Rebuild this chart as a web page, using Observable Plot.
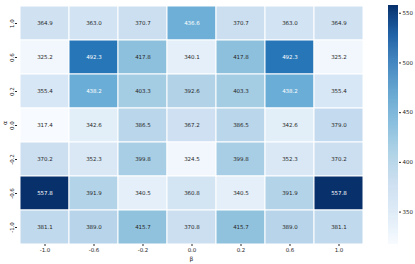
<!DOCTYPE html>
<html>
<head>
<meta charset="utf-8">
<script src="https://cdn.jsdelivr.net/npm/d3@7"></script>
<script src="https://cdn.jsdelivr.net/npm/@observablehq/plot@0.6"></script>
<style>
  html, body { margin: 0; padding: 0; background: #fff; }
  #wrap { position: relative; width: 415px; height: 264px; font-family: "DejaVu Sans", sans-serif; }
  #wrap svg { position: absolute; top: 0; }
</style>
</head>
<body>
<div id="wrap"></div>
<script>
// β across, α down (top to bottom)
const betas = ["-1.0", "-0.6", "-0.2", "0.0", "0.2", "0.6", "1.0"];
const alphas = ["1.0", "0.6", "0.2", "0.0", "-0.2", "-0.6", "-1.0"];
const row_a1_0  = [364.9, 363.0, 370.7, 436.6, 370.7, 363.0, 364.9];
const row_a0_6  = [325.2, 492.3, 417.8, 340.1, 417.8, 492.3, 325.2];
const row_a0_2  = [355.4, 438.2, 403.3, 392.6, 403.3, 438.2, 355.4];
const row_a0_0  = [317.4, 342.6, 386.5, 367.2, 386.5, 342.6, 379.0];
const row_am0_2 = [370.2, 352.3, 399.8, 324.5, 399.8, 352.3, 370.2];
const row_am0_6 = [557.8, 391.9, 340.5, 360.8, 340.5, 391.9, 557.8];
const row_am1_0 = [381.1, 389.0, 415.7, 370.8, 415.7, 389.0, 381.1];
const colorbarTicks = [350, 400, 450, 500, 550];

const rows = [row_a1_0, row_a0_6, row_a0_2, row_a0_0, row_am0_2, row_am0_6, row_am1_0];
const data = [];
rows.forEach((r, i) => r.forEach((v, j) => data.push({alpha: alphas[i], beta: betas[j], value: v})));

const vmin = d3.min(data, d => d.value);
const vmax = d3.max(data, d => d.value);
const blues = ["#f7fbff", "#deebf7", "#c6dbef", "#9ecae1", "#6baed6", "#4292c6", "#2171b5", "#08519c", "#08306b"];
const colorDomain = blues.map((_, i) => vmin + (vmax - vmin) * i / (blues.length - 1));
const colorOpts = {type: "linear", domain: colorDomain, range: blues, interpolate: "rgb"};
const colorFn = d3.scaleLinear().domain(colorDomain).range(blues).interpolate(d3.interpolateRgb);

function lum(c) {
  const rgb = d3.rgb(c);
  const f = x => { x /= 255; return x <= 0.03928 ? x / 12.92 : Math.pow((x + 0.055) / 1.055, 2.4); };
  return 0.2126 * f(rgb.r) + 0.7152 * f(rgb.g) + 0.0722 * f(rgb.b);
}
const textColor = d => lum(colorFn(d.value)) > 0.408 ? "#262626" : "#ffffff";

const fontSize = 5.5;
const main = Plot.plot({
  width: 370,
  height: 264,
  marginLeft: 17,
  marginRight: 5,
  marginTop: 5,
  marginBottom: 20,
  style: {fontFamily: "DejaVu Sans, sans-serif", fontSize: fontSize + "px", color: "#262626", background: "transparent"},
  x: {type: "band", domain: betas, padding: 0, label: null},
  y: {type: "band", domain: alphas, padding: 0, label: null},
  color: colorOpts,
  marks: [
    Plot.cell(data, {x: "beta", y: "alpha", fill: "value", stroke: "white", strokeWidth: 1, inset: 0}),
    Plot.text(data, {x: "beta", y: "alpha", text: d => d.value.toFixed(1), fill: textColor, fontSize: fontSize}),
    Plot.axisX({tickSize: 2, tickPadding: 2, fontSize: fontSize, label: null, stroke: "#262626"}),
    Plot.axisY({tickSize: 2, tickPadding: 2, fontSize: fontSize, label: null, tickRotate: -90, stroke: "#262626"}),
    Plot.text(["β"], {frameAnchor: "bottom", dy: 16, fontSize: 6, fill: "#262626"}),
    Plot.text(["α"], {frameAnchor: "left", dx: -12, rotate: -90, fontSize: 6, fill: "#262626"})
  ]
});
main.style.left = "0px";
document.getElementById("wrap").appendChild(main);

const step = (vmax - vmin) / 240;
const ramp = d3.range(vmin, vmax, step);
const bar = Plot.plot({
  width: 35,
  height: 264,
  marginLeft: 8,
  marginRight: 17,
  marginTop: 5,
  marginBottom: 20,
  style: {fontFamily: "DejaVu Sans, sans-serif", fontSize: fontSize + "px", color: "#262626", background: "transparent"},
  x: {domain: [0, 1], axis: null},
  y: {domain: [vmin, vmax], label: null},
  color: colorOpts,
  marks: [
    Plot.rect(ramp, {x1: 0, x2: 1, y1: d => d, y2: d => Math.min(d + step * 1.05, vmax), fill: d => d}),
    Plot.axisY(colorbarTicks, {anchor: "right", tickSize: 2, tickPadding: 2, fontSize: fontSize, label: null, stroke: "#262626"})
  ]
});
bar.style.left = "380px";
document.getElementById("wrap").appendChild(bar);
</script>
</body>
</html>
